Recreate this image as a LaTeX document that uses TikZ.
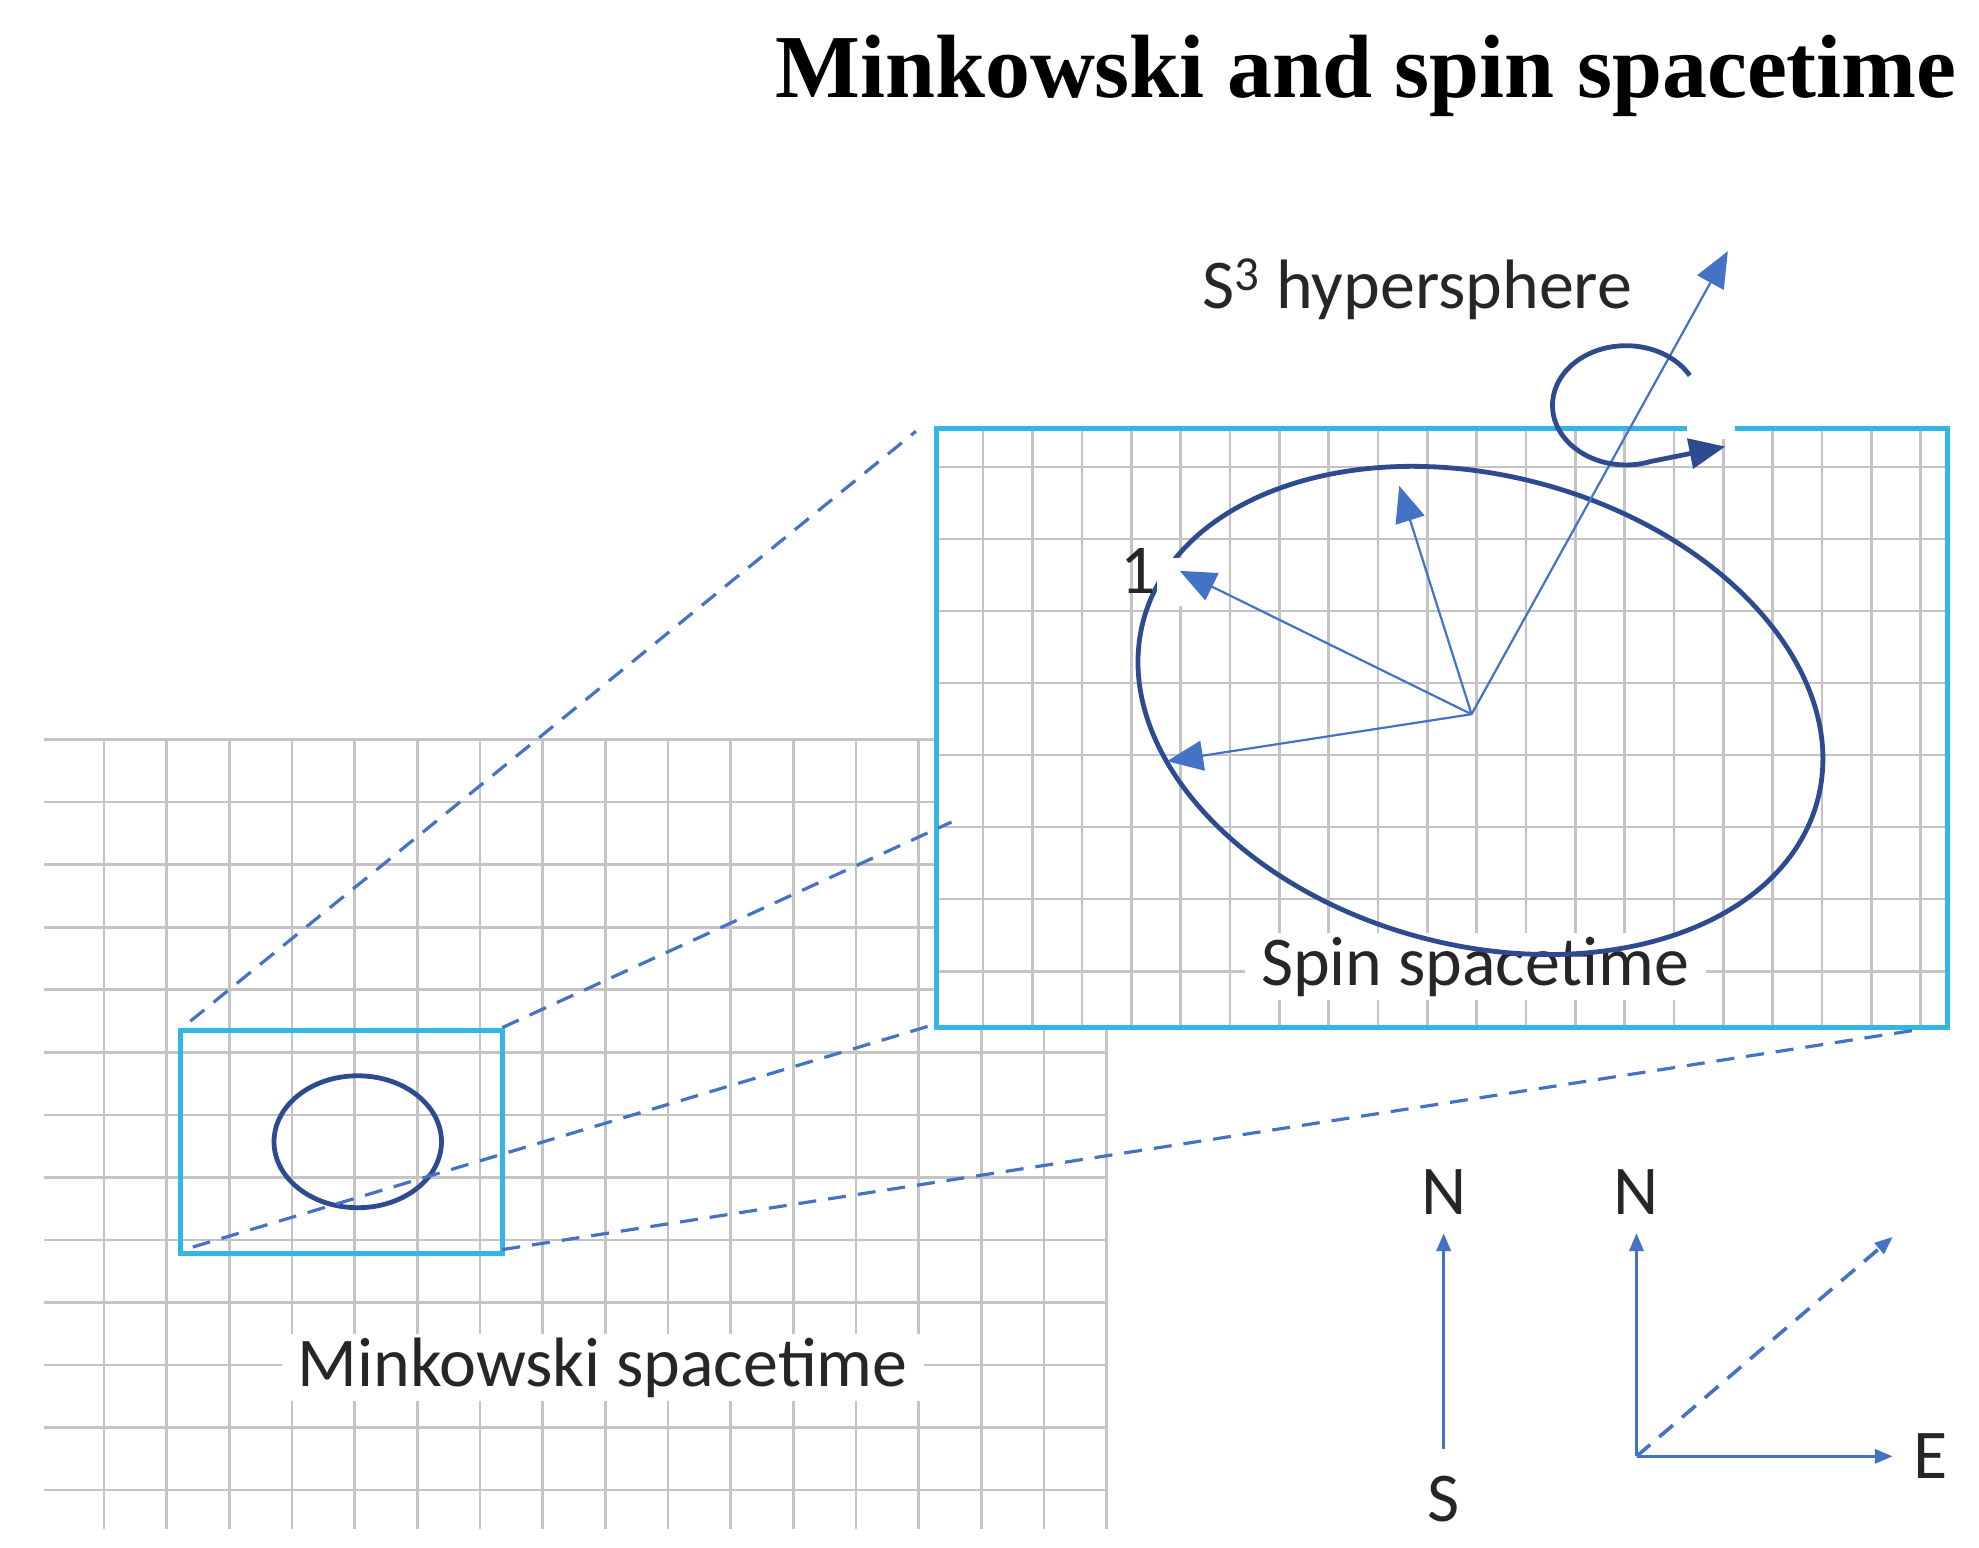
\documentclass[tikz,border=0pt]{standalone}
\usepackage{fontspec}
\setmainfont{Liberation Serif}
\newfontfamily\carfont{Carlito}
\usetikzlibrary{arrows.meta}
\definecolor{ablue}{HTML}{4472C4}
\definecolor{navy}{HTML}{2F4B8F}
\definecolor{cyanb}{HTML}{33B5E5}
\definecolor{gridc}{HTML}{C4C4C4}
\begin{document}
\begin{tikzpicture}[x=0.635pt,y=-0.635pt,
 grid/.style={gridc,line width=1.3pt},
 box/.style={cyanb,line width=2.4pt},
 ell/.style={navy,line width=2.4pt},
 vec/.style={ablue,line width=1.1pt,-{Triangle[length=18pt,width=15pt]}},
 comp/.style={ablue,line width=1.8pt,-{Triangle[length=9pt,width=7pt]}},
 dsh/.style={ablue,line width=1.6pt,dash pattern=on 9pt off 6pt},
 lab/.style={font=\carfont\fontsize{35}{40}\selectfont,text=black!85,inner sep=2pt},
 wlab/.style={lab,fill=white,inner xsep=8pt}]
\useasboundingbox (0,0) rectangle (1560,1220);
\node[font=\bfseries\fontsize{45}{50}\selectfont,anchor=east] (title) at (1548,60) {Minkowski and spin spacetime};
% left grid
\foreach \i in {0,...,12} \draw[grid] (35,{583+49.3*\i}) -- (872,{583+49.3*\i});
\foreach \i in {0,...,16} \draw[grid] ({82+49.4*\i},583) -- ({82+49.4*\i},1205);
% big box
\fill[white] (738,338) rectangle (1535,810);
\foreach \i in {0,...,19} \draw[grid] ({775+38.9*\i},338) -- ({775+38.9*\i},810);
\foreach \i in {0,...,7} \draw[grid] (738,{368+56.8*\i}) -- (1535,{368+56.8*\i});
\draw[box] (738,338) rectangle (1535,810);
\fill[white] (1330,330) rectangle (1368,346);
% small box
\draw[box] (142,812) rectangle (396,988);
\draw[ell] (282,900) ellipse [x radius=66, y radius=52];
% dashed
\coordinate (s1) at (150,805); \coordinate (b1) at (722,340);
\coordinate (s2) at (396,810); \coordinate (b2) at (750,648);
\coordinate (s3) at (152,983); \coordinate (b3) at (735,808);
\coordinate (s4) at (396,985); \coordinate (b4) at (1510,812);
\draw[dsh] (s1) -- (b1); \draw[dsh] (s2) -- (b2);
\draw[dsh] (s3) -- (b3); \draw[dsh] (s4) -- (b4);
% labels under ellipse
\node[wlab] (spin) at (1163,762) {Spin spacetime};
% big ellipse
\draw[ell,shift={(1167,560)},rotate=-15] (0,0) ellipse [x radius=275, y radius=185];
\coordinate (o) at (1160,563);
\coordinate (v1) at (930,450); \coordinate (v2) at (1103,383);
\coordinate (v3) at (920,600); \coordinate (v4) at (1362,198);
\fill[white] (912,440) rectangle (940,478);
\draw[vec] (o) -- (v1); \draw[vec] (o) -- (v2);
\draw[vec] (o) -- (v3); \draw[vec] (o) -- (v4);
\node[lab] (one) at (897,450) {1};
% spin loop
\coordinate (ls) at (1332,296); \coordinate (le) at (1360,352);
\draw[ell,-{Triangle[length=18pt,width=15pt]}] (ls) arc[start angle=-30,end angle=-290,x radius=58,y radius=47] -- (le);
\node[lab,anchor=east] (hyp) at (1290,228) {S\textsuperscript{3} hypersphere};
\node[wlab] (mink) at (475,1078) {Minkowski spacetime};
% compass
\node[lab] (n1) at (1138,940) {N};
\node[lab] (s) at (1138,1182) {S};
\node[lab] (n2) at (1290,940) {N};
\node[lab] (e) at (1522,1148) {E};
\coordinate (c1b) at (1138,1142); \coordinate (c1t) at (1138,972);
\coordinate (c0) at (1290,1148); \coordinate (c2t) at (1290,972);
\coordinate (c2r) at (1492,1148); \coordinate (c2d) at (1492,975);
\draw[comp] (c1b) -- (c1t);
\draw[comp] (c0) -- (c2t);
\draw[comp] (c0) -- (c2r);
\draw[comp,dash pattern=on 9pt off 6pt] (c0) -- (c2d);
\end{tikzpicture}
\end{document}
